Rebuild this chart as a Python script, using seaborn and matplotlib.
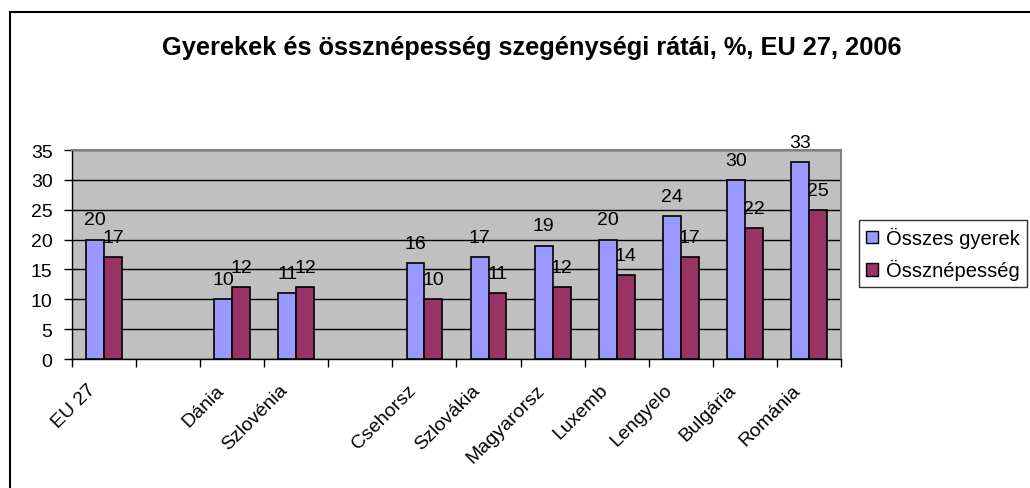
import matplotlib
matplotlib.use('Agg')
import matplotlib.pyplot as plt
import matplotlib.transforms as mtransforms
from matplotlib.patches import Rectangle
from matplotlib.lines import Line2D
import pandas as pd
import seaborn as sns

# Data
countries = ['EU 27', 'Dánia', 'Szlovénia', 'Csehorsz', 'Szlovákia',
             'Magyarorsz', 'Luxemb', 'Lengyelo', 'Bulgária', 'Románia']
children = [20, 10, 11, 16, 17, 19, 20, 24, 30, 33]
total_pop = [17, 12, 12, 10, 11, 12, 14, 17, 22, 25]
series_names = ['Összes gyerek', 'Össznépesség']
# category order on the axis, with two empty slots as in the original
order = ['EU 27', '_gap1', 'Dánia', 'Szlovénia', '_gap2', 'Csehorsz', 'Szlovákia',
         'Magyarorsz', 'Luxemb', 'Lengyelo', 'Bulgária', 'Románia']

df = pd.DataFrame({
    'orszag': countries * 2,
    'sorozat': [series_names[0]] * len(countries) + [series_names[1]] * len(countries),
    'ertek': children + total_pop,
})

sns.set_style('white')
plt.rcParams['font.family'] = ['Liberation Sans', 'DejaVu Sans']
plt.rcParams['text.color'] = 'black'
plt.rcParams['xtick.color'] = 'black'
plt.rcParams['ytick.color'] = 'black'
plt.rcParams['xtick.labelcolor'] = 'black'
plt.rcParams['ytick.labelcolor'] = 'black'

fig = plt.figure(figsize=(10.3, 4.89), dpi=100)
ax = fig.add_axes([0.0699, 0.2638, 0.7466, 0.4274])

sns.barplot(data=df, x='orszag', y='ertek', hue='sorozat', order=order,
            hue_order=series_names, palette=['#9999FF', '#993366'],
            width=0.56, gap=0, edgecolor='black', linewidth=1.2,
            saturation=1, errorbar=None, ax=ax, zorder=3)

for cont in ax.containers:
    ax.bar_label(cont, padding=8, fontsize=14, color='black', zorder=4)

# Excel-like plot area
ax.set_facecolor('#C0C0C0')
ax.set_xlim(-0.5, 11.5)
ax.set_ylim(0, 35)
ax.set_yticks(range(0, 36, 5))
ax.yaxis.grid(True, color='black', linewidth=1, zorder=1)
ax.set_axisbelow(True)
for side in ['top', 'right']:
    ax.spines[side].set_color('#808080')
    ax.spines[side].set_linewidth(1.5)
for side in ['left', 'bottom']:
    ax.spines[side].set_color('black')
    ax.spines[side].set_linewidth(1)

ax.set_xlabel('')
ax.set_ylabel('')
ax.tick_params(axis='y', direction='out', length=6, width=1, color='black',
               labelsize=14, pad=8, left=True)

# ticks between categories, labels at the centers
ax.set_xticks(range(len(order)))
ax.set_xticklabels(['' if c.startswith('_') else c for c in order])
ax.set_xticks([i - 0.5 for i in range(len(order) + 1)], minor=True)
ax.tick_params(axis='x', which='major', length=0, pad=0, labelsize=14)
ax.tick_params(axis='x', which='minor', direction='out', length=6, width=1,
               color='black', bottom=True)
shift = mtransforms.ScaledTranslation(-11 / 100, -28 / 100, fig.dpi_scale_trans)
for lbl in ax.get_xticklabels():
    lbl.set_rotation(45)
    lbl.set_ha('right')
    lbl.set_va('center')
    lbl.set_rotation_mode('anchor')
    lbl.set_transform(lbl.get_transform() + shift)

ax.legend_.remove()
handles = [Rectangle((0, 0), 1, 1, facecolor='#9999FF', edgecolor='black', linewidth=1),
           Rectangle((0, 0), 1, 1, facecolor='#993366', edgecolor='black', linewidth=1)]
leg = fig.legend(handles, series_names, loc='upper left',
                 bbox_to_anchor=(859 / 1030, 1 - 221 / 489), frameon=True,
                 fancybox=False, edgecolor='black', fontsize=14.5,
                 handlelength=0.6, handleheight=0.6, handletextpad=0.4,
                 borderpad=0.35, labelspacing=0.55, borderaxespad=0)
leg.get_frame().set_linewidth(1)

fig.text(532 / 1030, 1 - 48 / 489,
         'Gyerekek és össznépesség szegénységi rátái, %, EU 27, 2006',
         ha='center', va='center', fontsize=18.3, fontweight='bold')

# outer chart frame, cut by the image edges
fig.add_artist(Line2D([10 / 1030, 10 / 1030], [0, 1 - 13 / 489], color='black', linewidth=1.5))
fig.add_artist(Line2D([10 / 1030, 1], [1 - 13 / 489, 1 - 13 / 489], color='black', linewidth=1.5))

fig.savefig('out.png', dpi=100, facecolor='white')
